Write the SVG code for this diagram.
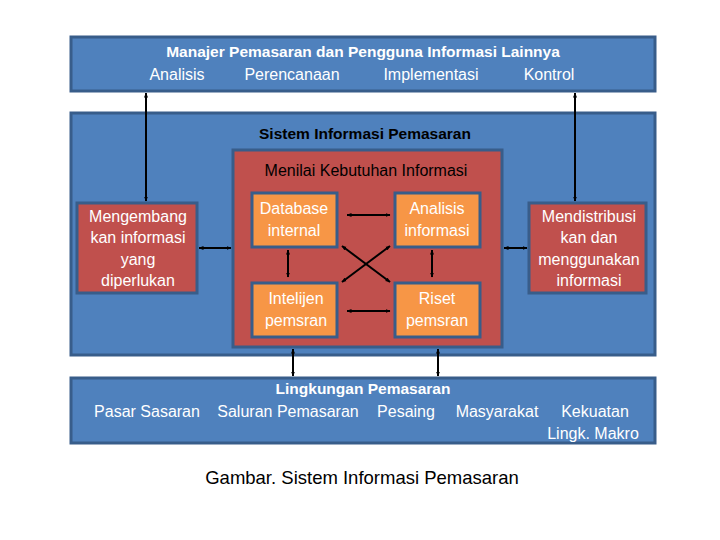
<svg xmlns="http://www.w3.org/2000/svg" width="720" height="540" viewBox="0 0 720 540">
<defs>
<marker id="ah" viewBox="0 0 10 10" refX="9" refY="5" markerWidth="5" markerHeight="5" orient="auto-start-reverse" markerUnits="userSpaceOnUse">
<path d="M0,1 L10,5 L0,9 z" fill="#000"/>
</marker>
<style>
.blue{fill:#4f81bd;stroke:#385d8a;stroke-width:3}
.red{fill:#c0504d;stroke:#385d8a;stroke-width:3}
.org{fill:#f79646;stroke:#385d8a;stroke-width:3}
text{font-family:"Liberation Sans",Arial,sans-serif;font-size:16px;text-anchor:middle}
.w{fill:#fff}
.k{fill:#000}
.b{font-weight:bold;font-size:15.5px}
.c{stroke:#000;stroke-width:2;fill:none;marker-start:url(#ah);marker-end:url(#ah)}
</style>
</defs>
<rect width="720" height="540" fill="#fff"/>
<g id="top">
<rect class="blue" x="71" y="37" width="584" height="54"/>
<text class="w b" x="363" y="57">Manajer Pemasaran dan Pengguna Informasi Lainnya</text>
<text class="w" x="177" y="80">Analisis</text>
<text class="w" x="292" y="80">Perencanaan</text>
<text class="w" x="431" y="80">Implementasi</text>
<text class="w" x="549" y="80">Kontrol</text>
</g>
<g id="sim">
<rect class="blue" x="71" y="113" width="584" height="242"/>
<text class="k b" x="365" y="139">Sistem Informasi Pemasaran</text>
</g>
<g id="menilai">
<rect class="red" x="233" y="150" width="269" height="197"/>
<text class="k" x="366" y="176">Menilai Kebutuhan Informasi</text>
</g>
<g id="mengembang">
<rect class="red" x="77" y="203" width="120" height="90"/>
<text class="w" x="138" y="222">Mengembang</text>
<text class="w" x="138" y="243">kan informasi</text>
<text class="w" x="138" y="265">yang</text>
<text class="w" x="138" y="286">diperlukan</text>
</g>
<g id="mendistribusi">
<rect class="red" x="529" y="203" width="117" height="90"/>
<text class="w" x="589" y="222">Mendistribusi</text>
<text class="w" x="589" y="243">kan dan</text>
<text class="w" x="589" y="265">menggunakan</text>
<text class="w" x="589" y="286">informasi</text>
</g>
<g id="database">
<rect class="org" x="252" y="193" width="85" height="54"/>
<text class="w" x="294" y="214">Database</text>
<text class="w" x="294" y="236">internal</text>
</g>
<g id="analisis">
<rect class="org" x="395" y="193" width="85" height="54"/>
<text class="w" x="437" y="214">Analisis</text>
<text class="w" x="437" y="236">informasi</text>
</g>
<g id="intelijen">
<rect class="org" x="252" y="283" width="85" height="54"/>
<text class="w" x="296" y="304">Intelijen</text>
<text class="w" x="296" y="326">pemsran</text>
</g>
<g id="riset">
<rect class="org" x="395" y="283" width="85" height="54"/>
<text class="w" x="437" y="304">Riset</text>
<text class="w" x="437" y="326">pemsran</text>
</g>
<g id="bottom">
<rect class="blue" x="71" y="378" width="584" height="65"/>
<text class="w b" x="363" y="394">Lingkungan Pemasaran</text>
<text class="w" x="147" y="417">Pasar Sasaran</text>
<text class="w" x="288" y="417">Saluran Pemasaran</text>
<text class="w" x="406" y="417">Pesaing</text>
<text class="w" x="497" y="417">Masyarakat</text>
<text class="w" x="595" y="417">Kekuatan</text>
<text class="w" x="593" y="439">Lingk. Makro</text>
</g>
<g id="connectors">
<line class="c" x1="146" y1="93" x2="146" y2="201"/>
<line class="c" x1="575" y1="93" x2="575" y2="201"/>
<line class="c" x1="199" y1="248" x2="231" y2="248"/>
<line class="c" x1="504" y1="248" x2="527" y2="248"/>
<line class="c" x1="347" y1="215" x2="390" y2="215"/>
<line class="c" x1="347" y1="311" x2="390" y2="311"/>
<line class="c" x1="288" y1="250" x2="288" y2="277"/>
<line class="c" x1="432" y1="250" x2="432" y2="277"/>
<line class="c" x1="342" y1="246" x2="390" y2="282"/>
<line class="c" x1="390" y1="246" x2="342" y2="282"/>
<line class="c" x1="293" y1="349" x2="293" y2="376"/>
<line class="c" x1="438" y1="349" x2="438" y2="376"/>
</g>
<text class="k" x="362" y="484" style="font-size:18.5px">Gambar. Sistem Informasi Pemasaran</text>
</svg>
